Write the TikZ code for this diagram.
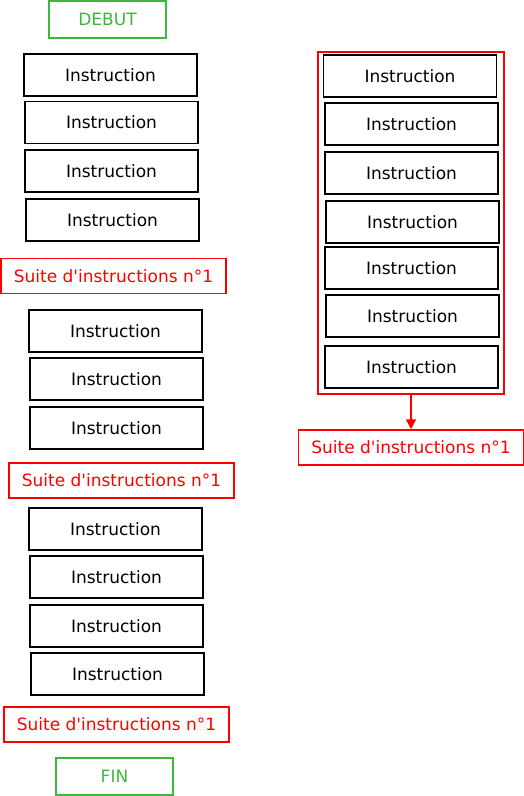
\documentclass[tikz,border=0pt]{standalone}
\usepackage{fontspec}
\setmainfont{DejaVu Sans}
\usetikzlibrary{arrows.meta}
\definecolor{termgreen}{RGB}{60,184,60}
\newcommand{\suitetext}{Suite d\textquotesingle instructions n°1}

\begin{document}
\begin{tikzpicture}[x=1pt, y=-1pt, line width=1.5pt, inner sep=0pt,
  font=\fontsize{17}{20}\selectfont,
  instr/.style={draw, minimum width=173pt, minimum height=42pt},
  suite/.style={draw=red, text=red, minimum width=225pt, minimum height=35pt},
  term/.style={draw=termgreen, text=termgreen, minimum width=117pt, minimum height=37pt}]
  \useasboundingbox (0,0) rectangle (524,796);
  % left column
  \path node (debut) at (107.5,19.5) [term] {DEBUT}
        node (i1)  at (110.5,75)    [instr] {Instruction}
        node (i2)  at (111.5,122.5) [instr] {Instruction}
        node (i3)  at (111.5,171)   [instr] {Instruction}
        node (i4)  at (112.5,220)   [instr] {Instruction}
        node (s1)  at (113.5,276)   [suite] {\suitetext}
        node (i5)  at (115.5,331)   [instr] {Instruction}
        node (i6)  at (116.5,379)   [instr] {Instruction}
        node (i7)  at (116.5,428)   [instr] {Instruction}
        node (s2)  at (121.5,480.5) [suite] {\suitetext}
        node (i8)  at (115.5,529)   [instr] {Instruction}
        node (i9)  at (116.5,577)   [instr] {Instruction}
        node (i10) at (116.5,626)   [instr] {Instruction}
        node (i11) at (117.5,674)   [instr] {Instruction}
        node (s3)  at (116.5,724.5) [suite] {\suitetext}
        node (fin) at (114.5,776.5) [term] {FIN};
  % right column
  \path node (loop) at (411,223) [draw=red, minimum width=186pt, minimum height=342pt] {}
        node (r1) at (410,76)    [instr] {Instruction}
        node (r2) at (411.5,124) [instr] {Instruction}
        node (r3) at (411.5,173) [instr] {Instruction}
        node (r4) at (412.5,222) [instr] {Instruction}
        node (r5) at (411.5,268) [instr] {Instruction}
        node (r6) at (412.5,316) [instr] {Instruction}
        node (r7) at (411.5,367) [instr] {Instruction}
        node (sr) at (411,447.5) [suite] {\suitetext};
  \draw[red, -{Triangle[length=10pt, width=10pt]}] (loop) -- (sr);
\end{tikzpicture}
\end{document}
